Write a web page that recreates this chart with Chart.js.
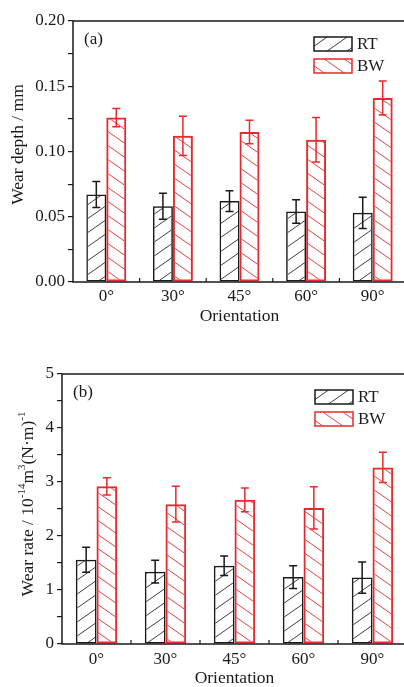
<!DOCTYPE html>
<html>
<head>
<meta charset="utf-8">
<script src="https://cdn.jsdelivr.net/npm/chart.js@4.4.0/dist/chart.umd.min.js"></script>
<style>
    html, body { margin: 0; padding: 0; background: #fff; overflow: hidden; }
    .panel { position: absolute; left: 0; width: 420px; overflow: hidden; }
    #panelA { top: 0; height: 340px; }
    #panelB { top: 340px; height: 352px; }
</style>
</head>
<body>
<div class="panel" id="panelA"><canvas id="chartA" width="420" height="340"></canvas></div>
<div class="panel" id="panelB"><canvas id="chartB" width="420" height="352"></canvas></div>
<script>
// Data
const orientations = ['0°', '30°', '45°', '60°', '90°'];

const depthRT = [0.067, 0.058, 0.062, 0.054, 0.053];
const depthRTErr = [0.010, 0.010, 0.008, 0.009, 0.012];
const depthBW = [0.126, 0.112, 0.115, 0.109, 0.141];
const depthBWErr = [0.007, 0.015, 0.009, 0.017, 0.013];

const rateRT = [1.56, 1.34, 1.45, 1.24, 1.23];
const rateRTErr = [0.23, 0.21, 0.18, 0.21, 0.29];
const rateBW = [2.92, 2.59, 2.67, 2.52, 3.27];
const rateBWErr = [0.16, 0.33, 0.22, 0.39, 0.28];

const serif = "'Liberation Serif', 'Times New Roman', 'DejaVu Serif', serif";
const black = '#1a1a1a';
const red = '#e62a2d';

// hatch pattern: dir 1 = "/", dir -1 = "\"
function hatch(color, dir) {
    const w = 20, h = 14;
    const c = document.createElement('canvas');
    c.width = w;
    c.height = h;
    const g = c.getContext('2d');
    g.strokeStyle = color;
    g.lineWidth = 0.9;
    for (let k = -1; k <= 1; k++) {
        g.beginPath();
        if (dir > 0) {
            g.moveTo(0, h + k * h);
            g.lineTo(w, k * h);
        } else {
            g.moveTo(0, k * h);
            g.lineTo(w, h + k * h);
        }
        g.stroke();
    }
    return g.createPattern(c, 'repeat');
}

// error bars, frame, inner x ticks, legend, panel tag, rotated y title
const decorPlugin = {
    id: 'decor',
    afterDatasetsDraw(chart) {
        const ctx = chart.ctx;
        const yScale = chart.scales.y;
        chart.data.datasets.forEach((ds, di) => {
            const meta = chart.getDatasetMeta(di);
            ctx.save();
            ctx.strokeStyle = ds.borderColor;
            ctx.lineWidth = 1.5;
            meta.data.forEach((bar, i) => {
                const v = ds.data[i], e = ds.errors[i];
                const yTop = yScale.getPixelForValue(v + e);
                const yBot = yScale.getPixelForValue(v - e);
                ctx.beginPath();
                ctx.moveTo(bar.x, yTop);
                ctx.lineTo(bar.x, yBot);
                ctx.moveTo(bar.x - 4, yTop);
                ctx.lineTo(bar.x + 4, yTop);
                ctx.moveTo(bar.x - 4, yBot);
                ctx.lineTo(bar.x + 4, yBot);
                ctx.stroke();
            });
            ctx.restore();
        });
    },
    afterDraw(chart) {
        const ctx = chart.ctx;
        const area = chart.chartArea;
        const opts = chart.options.plugins.decor;
        const xScale = chart.scales.x;

        ctx.save();
        ctx.strokeStyle = black;
        ctx.lineWidth = 1.5;
        ctx.strokeRect(area.left, area.top, area.right - area.left, area.bottom - area.top);

        // small inward ticks between categories
        ctx.lineWidth = 1.2;
        for (let i = 1; i < orientations.length; i++) {
            const x = (xScale.getPixelForTick(i - 1) + xScale.getPixelForTick(i)) / 2;
            ctx.beginPath();
            ctx.moveTo(x, area.bottom);
            ctx.lineTo(x, area.bottom - 4);
            ctx.stroke();
        }

        // panel tag
        ctx.fillStyle = black;
        ctx.font = '17px ' + serif;
        ctx.textBaseline = 'middle';
        ctx.fillText(opts.tag, area.left + 11, area.top + 19);

        // legend
        chart.data.datasets.forEach((ds, i) => {
            const bx = area.right - 92;
            const by = area.top + 16 + i * 22;
            ctx.fillStyle = ds.backgroundColor;
            ctx.fillRect(bx, by, 38, 14);
            ctx.strokeStyle = ds.borderColor;
            ctx.lineWidth = 1.5;
            ctx.strokeRect(bx, by, 38, 14);
            ctx.fillStyle = black;
            ctx.font = '17px ' + serif;
            ctx.fillText(ds.label, bx + 43, by + 8);
        });

        // y title with superscripts
        const parts = opts.yTitle;
        const base = 17.5, small = 11;
        let total = 0;
        parts.forEach(p => {
            ctx.font = (p.sup ? small : base) + 'px ' + serif;
            total += ctx.measureText(p.t).width;
        });
        ctx.translate(opts.yTitleX, (area.top + area.bottom) / 2 + opts.yTitleShift);
        ctx.rotate(-Math.PI / 2);
        ctx.fillStyle = black;
        ctx.textBaseline = 'middle';
        let cx = -total / 2;
        parts.forEach(p => {
            ctx.font = (p.sup ? small : base) + 'px ' + serif;
            ctx.fillText(p.t, cx, p.sup ? -6 : 0);
            cx += ctx.measureText(p.t).width;
        });
        ctx.restore();
    }
};

function makeChart(canvasId, setup) {
    const ctx = document.getElementById(canvasId);
    return new Chart(ctx, {
        type: 'bar',
        data: {
            labels: orientations,
            datasets: [{
                label: 'RT',
                data: setup.rt,
                errors: setup.rtErr,
                backgroundColor: hatch('#2a2a2a', 1),
                borderColor: black,
                borderWidth: 1.5,
                borderSkipped: false
            }, {
                label: 'BW',
                data: setup.bw,
                errors: setup.bwErr,
                backgroundColor: hatch(red, -1),
                borderColor: red,
                borderWidth: 2,
                borderSkipped: false
            }]
        },
        options: {
            responsive: false,
            animation: false,
            layout: {
                padding: { top: setup.top, right: setup.right, bottom: 0, left: 0 }
            },
            datasets: {
                bar: { categoryPercentage: 0.6, barPercentage: 1.0 }
            },
            plugins: {
                legend: { display: false },
                tooltip: { enabled: false },
                decor: {
                    tag: setup.tag,
                    yTitle: setup.yTitle,
                    yTitleX: setup.yTitleX,
                    yTitleShift: setup.yTitleShift
                }
            },
            scales: {
                x: {
                    afterFit: scale => { scale.height = setup.xHeight; },
                    grid: { display: false, drawTicks: false },
                    border: { display: false },
                    ticks: {
                        color: black,
                        padding: setup.xTickPad,
                        font: { family: serif, size: 17 }
                    },
                    title: {
                        display: true,
                        text: 'Orientation',
                        color: black,
                        padding: { top: 0, bottom: setup.xTitlePad },
                        font: { family: serif, size: 17.5 }
                    }
                },
                y: {
                    min: 0,
                    max: setup.yMax,
                    afterFit: scale => { scale.width = setup.yWidth; },
                    border: { display: false },
                    grid: {
                        drawOnChartArea: false,
                        drawTicks: true,
                        tickLength: 5,
                        color: black,
                        lineWidth: 1.2
                    },
                    ticks: {
                        stepSize: setup.step,
                        color: black,
                        padding: 3,
                        font: { family: serif, size: 17 },
                        callback: value => {
                            const r = value / setup.labelStep;
                            if (Math.abs(r - Math.round(r)) > 1e-6) return '';
                            return value.toFixed(setup.decimals);
                        }
                    }
                }
            }
        },
        plugins: [decorPlugin]
    });
}

makeChart('chartA', {
    rt: depthRT, rtErr: depthRTErr, bw: depthBW, bwErr: depthBWErr,
    yMax: 0.2, step: 0.025, labelStep: 0.05, decimals: 2,
    top: 21, right: 14, yWidth: 73, xHeight: 58,
    xTickPad: 4, xTitlePad: 13,
    tag: '(a)',
    yTitle: [{ t: 'Wear depth / mm' }],
    yTitleX: 18, yTitleShift: -7
});

makeChart('chartB', {
    rt: rateRT, rtErr: rateRTErr, bw: rateBW, bwErr: rateBWErr,
    yMax: 5, step: 0.5, labelStep: 1, decimals: 0,
    top: 34, right: 13, yWidth: 62, xHeight: 48,
    xTickPad: 5, xTitlePad: 3,
    tag: '(b)',
    yTitle: [
        { t: 'Wear rate / 10' }, { t: '-14', sup: true },
        { t: 'm' }, { t: '3', sup: true },
        { t: '(N·m)' }, { t: '-1', sup: true }
    ],
    yTitleX: 28, yTitleShift: -5
});
</script>
</body>
</html>
